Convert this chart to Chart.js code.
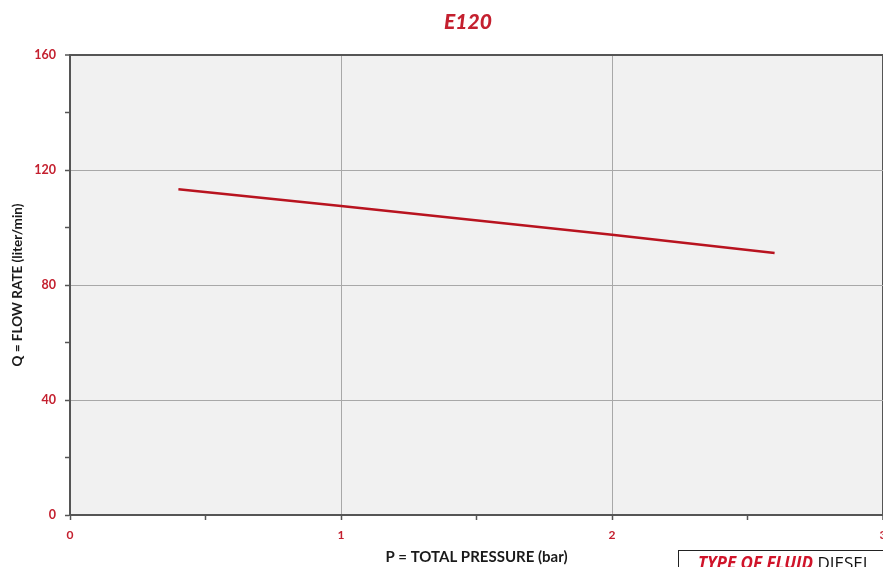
<!DOCTYPE html>
<html>
<head>
<meta charset="utf-8">
<script src="https://cdn.jsdelivr.net/npm/chart.js@4.4.0/dist/chart.umd.min.js"></script>
<style>
  html, body { margin: 0; padding: 0; background: #fff; overflow: hidden; width: 883px; height: 567px; }
  #wrap { position: relative; width: 900px; height: 567px; }
  #title {
    position: absolute; left: 368px; width: 200px; top: 8px; text-align: center;
    font-family: Lato, sans-serif; font-size: 21px; font-weight: 900; font-style: italic; color: #c4202f;
  }
  #fluid {
    position: absolute; left: 678px; top: 550px; width: 260px; height: 40px;
    border: 1px solid #222; box-sizing: border-box; padding: 0 0 0 19px;
    font-family: 'Open Sans', sans-serif; font-size: 17px; color: #111; white-space: nowrap;
  }
  #fluid b { color: #d0142a; font-style: italic; text-decoration: underline; }
</style>
</head>
<body>
<div id="wrap">
  <canvas id="flowChart" width="900" height="567"></canvas>
  <div id="title">E120</div>
  <div id="fluid"><b>TYPE OF FLUID</b> DIESEL</div>
</div>
<script>
// Data
const pressure = [0.4, 1, 2, 2.6];
const flowRate = [113.3, 107.5, 97.5, 91.1];
const xTicks = [0, 1, 2, 3];
const yTicks = [0, 40, 80, 120, 160];

const red = '#c4202f';
const axisDark = '#555';
const gridGray = '#a8a8a8';

const bgPlugin = {
  id: 'plotBg',
  beforeDraw(chart) {
    const { ctx, chartArea: a } = chart;
    ctx.save();
    ctx.fillStyle = '#f1f1f1';
    ctx.fillRect(a.left, a.top, a.right - a.left, a.bottom - a.top);
    ctx.restore();
  }
};

new Chart(document.getElementById('flowChart'), {
  type: 'scatter',
  data: {
    datasets: [{
      data: pressure.map((p, i) => ({ x: p, y: flowRate[i] })),
      showLine: true,
      borderColor: '#b8131f',
      borderWidth: 2.5,
      pointRadius: 0,
      tension: 0
    }]
  },
  options: {
    responsive: false,
    animation: false,
    layout: { padding: { right: 17, top: 55, left: 0, bottom: 0 } },
    plugins: {
      legend: { display: false },
      tooltip: { enabled: false }
    },
    scales: {
      x: {
        type: 'linear',
        min: 0, max: 3,
        afterBuildTicks: s => { s.ticks = [0, 0.5, 1, 1.5, 2, 2.5, 3].map(v => ({ value: v })); },
        afterFit: s => { s.height = 52; },
        ticks: {
          color: red,
          padding: 8,
          maxRotation: 0,
          font: { family: 'Lato', size: 12, weight: 'bold' },
          callback: v => xTicks.includes(v) ? String(v) : ''
        },
        grid: {
          color: c => c.tick && xTicks.includes(c.tick.value) ? (c.tick.value === 3 ? axisDark : gridGray) : 'rgba(0,0,0,0)',
          lineWidth: c => c.tick && c.tick.value === 3 ? 2 : 1,
          tickColor: axisDark,
          tickLength: 5,
          tickWidth: 1.5
        },
        border: { color: axisDark, width: 2 },
        title: {
          display: true,
          text: 'P = TOTAL PRESSURE (bar)',
          color: '#1a1a1a',
          font: { family: 'Lato', size: 15, weight: 'bold' },
          padding: { top: 0, bottom: 1 }
        }
      },
      y: {
        min: 0, max: 160,
        afterFit: s => { s.width = 70; },
        ticks: {
          stepSize: 20,
          color: red,
          padding: 9,
          font: { family: 'Lato', size: 12.5, weight: 'bold' },
          callback: v => yTicks.includes(v) ? String(v) : ''
        },
        grid: {
          color: c => c.tick && yTicks.includes(c.tick.value) ? (c.tick.value === 160 ? axisDark : gridGray) : 'rgba(0,0,0,0)',
          lineWidth: c => c.tick && c.tick.value === 160 ? 2 : 1,
          tickColor: axisDark,
          tickLength: 5,
          tickWidth: 1.5
        },
        border: { color: axisDark, width: 2 },
        title: {
          display: true,
          text: 'Q = FLOW RATE (liter/min)',
          color: '#1a1a1a',
          font: { family: 'Lato', size: 13.5, weight: 'bold' },
          padding: { top: 10, bottom: 0 }
        }
      }
    }
  },
  plugins: [bgPlugin]
});
</script>
</body>
</html>
